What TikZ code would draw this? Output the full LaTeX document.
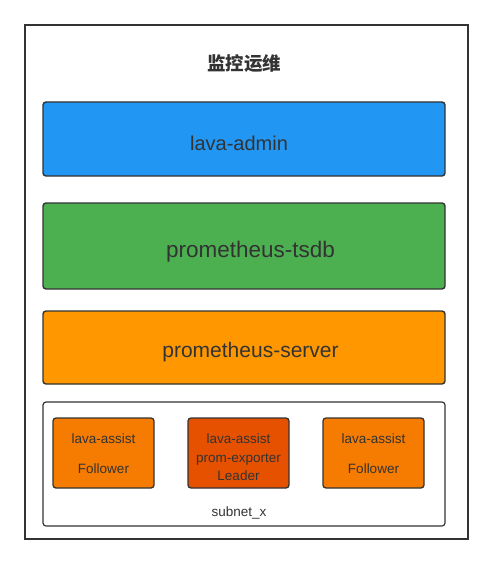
\documentclass[tikz,border=0pt]{standalone}
\usepackage{fontspec}
\setmainfont{Liberation Sans}
\newfontfamily\cjk{Noto Sans CJK SC}
\begin{document}
\begin{tikzpicture}[x=1pt,y=-1pt,
  layer/.style={draw=black!80,line width=1.4pt,rounded corners=3pt,minimum width=402pt},
  member/.style={draw=black!80,line width=1.3pt,rounded corners=3pt,minimum width=101pt,minimum height=70pt},
  boxtext/.style={text=black!80,align=center,inner sep=0pt},
  smalltext/.style={boxtext,font=\fontsize{13.5}{18.5}\selectfont}]
\useasboundingbox (0,0) rectangle (493,564);
\draw[black!80,line width=2pt] (25,25) rectangle (468,539);
\node[text=black!80,font=\cjk\bfseries\fontsize{18.5}{22}\selectfont] (title) at (244,63.5) {监控运维};
% layers
\node[layer,fill={rgb,255:red,33;green,150;blue,243},minimum height=74pt] (admin) at (244,139) {};
\node[layer,fill={rgb,255:red,76;green,175;blue,80},minimum height=86pt] (tsdb) at (244,246) {};
\node[layer,fill={rgb,255:red,255;green,152;blue,0},minimum height=73pt] (server) at (244,347.5) {};
\node[boxtext,font=\fontsize{20}{24}\selectfont,xshift=-5pt,yshift=-4pt] (admintext) at (admin.center) {lava-admin};
\node[boxtext,font=\fontsize{22.5}{26}\selectfont,xshift=6.5pt,yshift=-6pt] (tsdbtext) at (tsdb.center) {prometheus-tsdb};
\node[boxtext,font=\fontsize{21}{25}\selectfont,xshift=6.5pt,yshift=-4.5pt] (servertext) at (server.center) {prometheus-server};
% subnet
\node[layer,line width=1.2pt,minimum height=124pt] (subnet) at (244,464) {};
\node[member,fill={rgb,255:red,245;green,124;blue,0}] (left) at (103.5,453) {};
\node[member,fill={rgb,255:red,230;green,81;blue,0}] (leader) at (238.5,453) {};
\node[member,fill={rgb,255:red,245;green,124;blue,0}] (right) at (373.5,453) {};
\node[smalltext,yshift=-1pt] (lefttext) at (left.center) {lava-assist\\[11.5pt]Follower};
\node[smalltext,yshift=-4.5pt] (leadertext) at (leader.center) {lava-assist\\prom-exporter\\Leader};
\node[smalltext,yshift=-1pt] (righttext) at (right.center) {lava-assist\\[11.5pt]Follower};
\node[text=black!80,font=\fontsize{13.5}{16}\selectfont] (subnetlabel) at (239,513) {subnet\_x};
\end{tikzpicture}
\end{document}
